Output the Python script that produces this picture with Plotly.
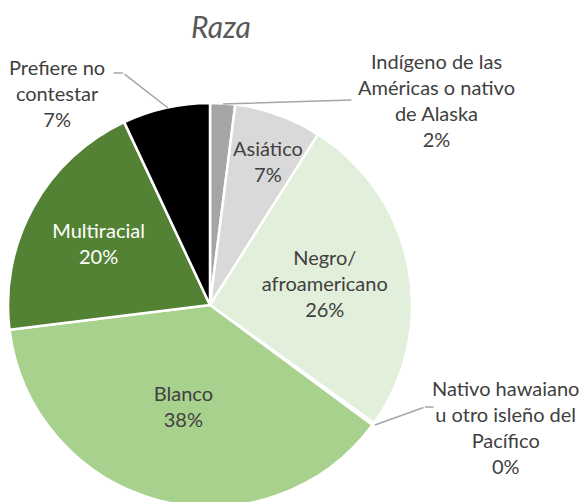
import plotly.graph_objects as go

categories = ["Indígeno de las Américas o nativo de Alaska", "Asiático", "Negro/afroamericano",
              "Nativo hawaiano u otro isleño del Pacífico", "Blanco", "Multiracial", "Prefiere no contestar"]
display_labels = ["Indígeno de las<br>Américas o nativo<br>de Alaska", "Asiático", "Negro/<br>afroamericano",
                  "Nativo hawaiano<br>u otro isleño del<br>Pacífico", "Blanco", "Multiracial", "Prefiere no<br>contestar"]
values = [2, 7, 26, 0.2, 38, 20, 7]
colors = ["#A5A5A5", "#D9D9D9", "#E2EFDA", "#C5E0B4", "#A9D18E", "#548235", "#000000"]
# how each slice's label is drawn: inside the slice, or placed beside it
label_mode = ["outside", "placed", "inside", "outside", "inside", "inside", "outside"]
inside_font_colors = ["#404040", "#404040", "#404040", "#404040", "#404040", "#FFFFFF", "#FFFFFF"]

FONT = "Lato, Calibri, Carlito, sans-serif"
TEXT_COLOR = "#404040"
LINE_COLOR = "#A6A6A6"
total = sum(values)
pcts = [f"{round(v / total * 100)}%" for v in values]

texts = [f"{d}<br>{p}" if m == "inside" else "" for d, p, m in zip(display_labels, pcts, label_mode)]

W, H = 587, 502
fig = go.Figure(go.Pie(
    labels=categories,
    values=values,
    text=texts,
    textinfo="text",
    textposition=["inside" if m == "inside" else "none" for m in label_mode],
    insidetextorientation="horizontal",
    insidetextfont=dict(family=FONT, size=20, color=inside_font_colors),
    marker=dict(colors=colors, line=dict(color="white", width=2.5)),
    sort=False,
    direction="clockwise",
    rotation=0,
    hoverinfo="label+percent",
    domain=dict(x=[0.0, 404 / W], y=[3 / H, 407 / H]),
    showlegend=False,
))

ann_font = dict(family=FONT, size=20, color=TEXT_COLOR)
# label centres (pixel coords of the paper)
label_pos = {0: (428, 92), 1: (260, 153), 3: (497, 419), 6: (49, 85)}
# leader polylines for outside labels (from label end to slice)
leaders = {
    0: [(345, 92), (215, 96)],
    3: [(427, 399), (417, 399), (367, 417)],
    6: [(104, 65), (115, 65), (160, 100)],
}
annotations = []
for idx, pts in leaders.items():
    for (x0, y0), (x1, y1) in zip(pts[:-1], pts[1:]):
        annotations.append(dict(
            x=x1, y=y1, xref="x", yref="y",
            ax=x0, ay=y0, axref="x", ayref="y",
            text="", showarrow=True, arrowhead=0, arrowwidth=1.5, arrowcolor=LINE_COLOR,
            standoff=0, startstandoff=0,
        ))
for idx, (tx, ty) in label_pos.items():
    annotations.append(dict(
        x=tx, y=ty, xref="x", yref="y", showarrow=False,
        text=f"{display_labels[idx]}<br>{pcts[idx]}",
        font=ann_font, align="center",
    ))
annotations.append(dict(
    x=213, y=18, xref="x", yref="y", showarrow=False,
    text="<i>Raza</i>", font=dict(family=FONT, size=30, color="#595959"),
))

fig.update_layout(
    width=W, height=H,
    margin=dict(l=0, r=0, t=0, b=0),
    paper_bgcolor="white", plot_bgcolor="rgba(0,0,0,0)",
    xaxis=dict(range=[0, W], visible=False, fixedrange=True),
    yaxis=dict(range=[H, 0], visible=False, fixedrange=True),
    annotations=annotations,
)

fig.write_html("out.html")
